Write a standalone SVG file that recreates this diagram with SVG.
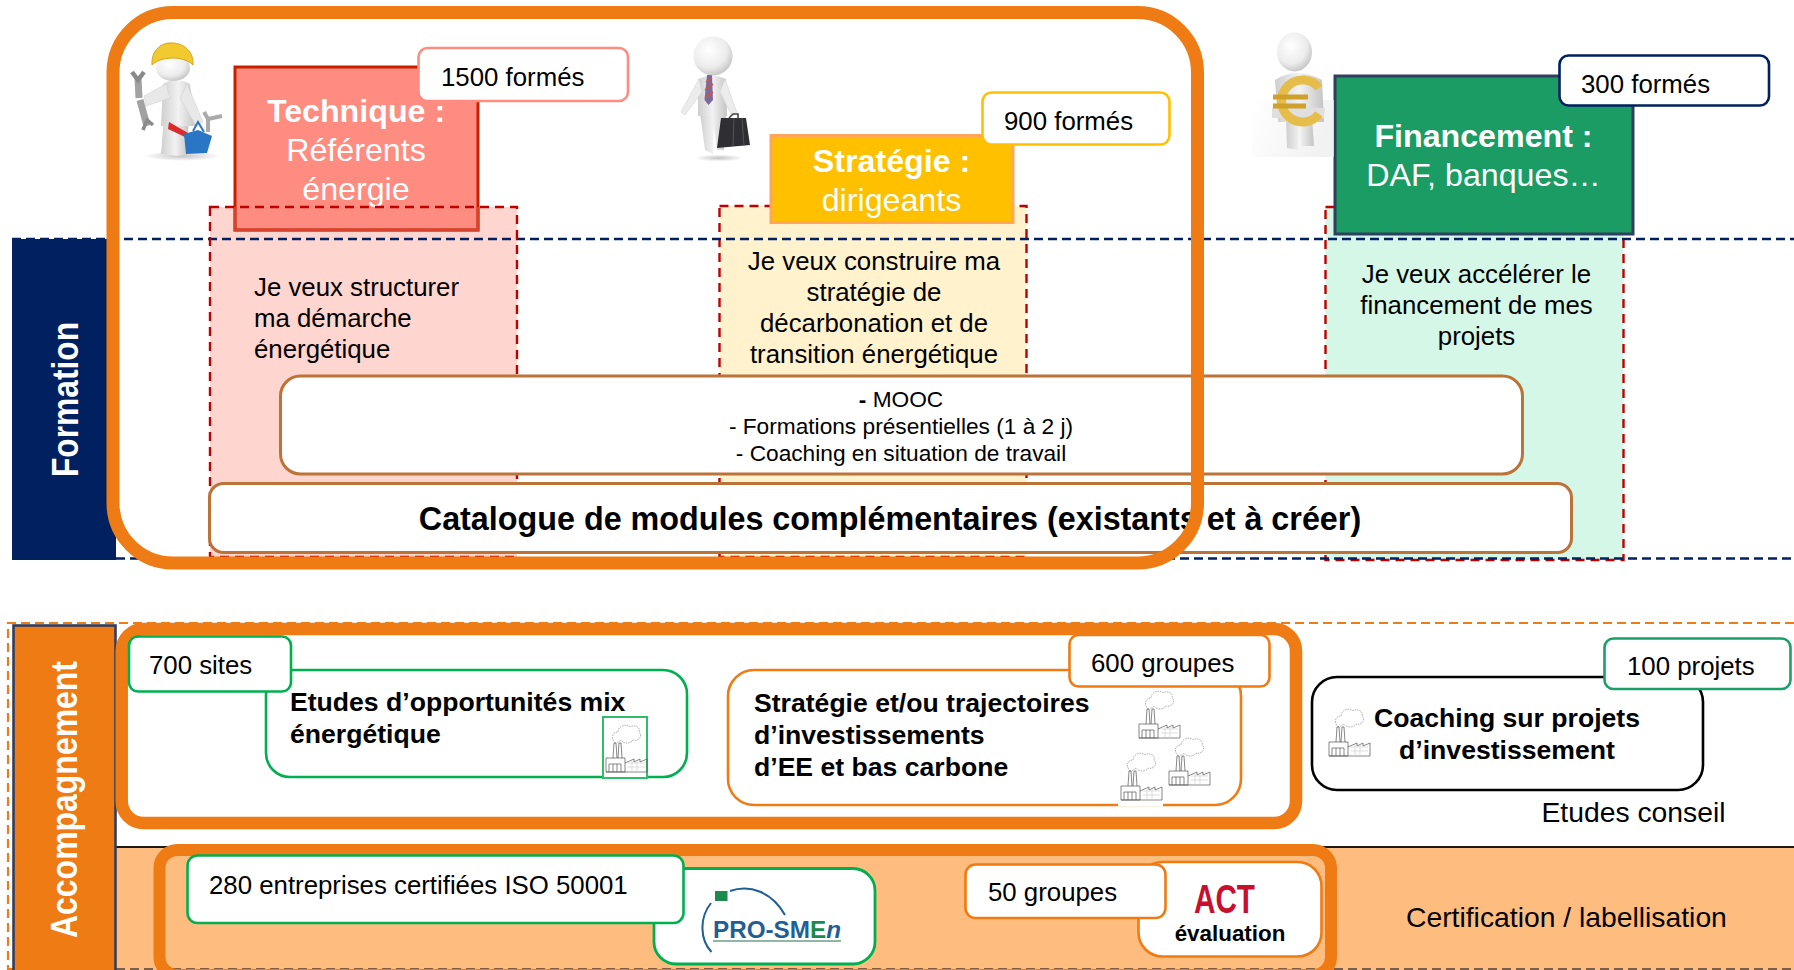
<svg xmlns="http://www.w3.org/2000/svg" xmlns:xlink="http://www.w3.org/1999/xlink" width="1794" height="970" viewBox="0 0 1794 970">
<style>
text{font-family:"Liberation Sans",Arial,sans-serif;fill:#000}
.b{font-weight:700}.w{fill:#fff}.m{text-anchor:middle}
.t25{font-size:25.8px}.t32{font-size:32.200px}.t22{font-size:22.700px}.t28{font-size:28.300px}.t26{font-size:26.600px}
.col{stroke:#c00000;stroke-width:2.400;stroke-dasharray:9 6}
.nav{stroke:#002060;stroke-width:2.400;stroke-dasharray:9 5;fill:none}
.thick{fill:none;stroke:#ee7b14}
.badge{fill:#fff;stroke-width:2.600}
.g{stroke:#00b050}.o{stroke:#ee7b14}.br{stroke:#bb7338;fill:#fff;stroke-width:3}
</style>
<defs>
<radialGradient id="skin" cx="0.4" cy="0.35" r="0.75"><stop offset="0" stop-color="#ffffff"/><stop offset="0.6" stop-color="#ececec"/><stop offset="1" stop-color="#b8b8b8"/></radialGradient>
<linearGradient id="limb" x1="0" x2="1" y1="0" y2="0"><stop offset="0" stop-color="#cfcfcf"/><stop offset="0.5" stop-color="#f2f2f2"/><stop offset="1" stop-color="#c4c4c4"/></linearGradient>
<linearGradient id="haze" x1="0" x2="1" y1="0" y2="0.3"><stop offset="0" stop-color="#fff"/><stop offset="1" stop-color="#ececec"/></linearGradient>
<radialGradient id="shadow"><stop offset="0" stop-color="#aaa" stop-opacity=".7"/><stop offset="1" stop-color="#aaa" stop-opacity="0"/></radialGradient>
<g id="factory" fill="none" stroke="#555" stroke-width=".7">
<path d="M2 49V35H21V49ZM2 49H43V36L36 39V36L30 39V36L21 40M5 49V41H17V49M9 41V49M13 41V49"/>
<path d="M9 35L10 20H12L13 35M14 35L15 20H17L18 35"/>
<path d="M11 20C6 14 9 9 14 9C14 3 22 0 26 4C30 1 37 4 35 9C39 12 35 19 29 17C27 21 19 21 17 17C15 19 12 20 11 20Z" stroke="#888" stroke-dasharray="1.500 1"/>
<path d="M24 40H41M24 44H41M28 38V49M33 38V49" stroke="#d0d0d0"/>
</g>
</defs>
<rect width="1794" height="970" fill="#fff"/>

<g id="band-certification"><rect x="116" y="847" width="1678" height="123" fill="#febd7e"/>
<line x1="116" y1="847" x2="1794" y2="847" stroke="#1a1a1a" stroke-width="2.200"/></g>

<g id="column-technique-fill"><rect x="210" y="207" width="307" height="350" fill="#ffd5cf"/></g>
<g id="column-strategie"><rect x="719.500" y="206" width="307" height="351" fill="#fff2cc" class="col"/></g>
<g id="column-financement"><rect x="1325.500" y="207" width="298" height="353" fill="#d5f7e7" class="col"/></g>

<g id="connectors">
<line x1="12" y1="239" x2="1794" y2="239" class="nav"/>
<line x1="116" y1="558.500" x2="1794" y2="558.500" class="nav"/>
<path d="M1794 623H8V969H1794" fill="none" stroke="#ee7b14" stroke-width="2.200" stroke-dasharray="9 5"/>
<line x1="116" y1="969" x2="1794" y2="969" stroke="#555" stroke-width="1.600" stroke-dasharray="9 5"/>
</g>

<g id="label-formation"><rect x="12" y="239" width="104" height="321" fill="#002060"/>
<text transform="translate(77.500 477) rotate(-90)" class="b w" font-size="37" textLength="155" lengthAdjust="spacingAndGlyphs">Formation</text></g>

<g id="node-technique">
<rect x="235" y="67" width="243" height="163" fill="#ff8c80" stroke="#c91f00" stroke-width="3"/>
<path d="M235 207V230H478V207" fill="none" stroke="#d4442f" stroke-width="3"/>
<text x="356" y="122" class="b w t32 m">Technique :</text>
<text x="356" y="161" class="w t32 m">Référents</text>
<text x="356" y="199.500" class="w t32 m">énergie</text>
<rect x="210" y="207" width="307" height="350" fill="none" class="col"/>
<text class="t25"><tspan x="254" y="296">Je veux structurer</tspan><tspan x="254" y="327">ma démarche</tspan><tspan x="254" y="358">énergétique</tspan></text>
</g>
<g id="badge-1500"><rect x="418.500" y="48" width="209.500" height="53" rx="9" class="badge" stroke="#ff8c80"/><text x="441" y="86" class="t25">1500 formés</text></g>

<g id="node-strategie">
<rect x="771" y="135.500" width="242" height="87" fill="#ffc000" stroke="#ffa65c" stroke-width="3"/>
<text x="891.500" y="172" class="b w t32 m">Stratégie :</text>
<text x="891.500" y="210.500" class="w t32 m">dirigeants</text>
<text class="t25 m"><tspan x="874" y="269.500">Je veux construire ma</tspan><tspan x="874" y="300.500">stratégie de</tspan><tspan x="874" y="331.500">décarbonation et de</tspan><tspan x="874" y="362.500">transition énergétique</tspan></text>
</g>
<g id="badge-900"><rect x="982.500" y="92.500" width="187" height="52" rx="9" class="badge" stroke="#ffc000"/><text x="1004" y="129.500" class="t25">900 formés</text></g>

<g id="node-financement">
<rect x="1335" y="76" width="298" height="158" fill="#1a9c64" stroke="#323e5e" stroke-width="3"/>
<text x="1483.500" y="147" class="b w t32 m">Financement :</text>
<text x="1483.500" y="185.500" class="w t32 m">DAF, banques…</text>
<text class="t25 m"><tspan x="1476.500" y="282.500">Je veux accélérer le</tspan><tspan x="1476.500" y="313.500">financement de mes</tspan><tspan x="1476.500" y="344.500">projets</tspan></text>
</g>
<g id="badge-300"><rect x="1559.500" y="55.500" width="209.500" height="50" rx="9" class="badge" stroke="#002060"/><text x="1581" y="93" class="t25">300 formés</text></g>

<g id="person-worker">
<ellipse cx="182" cy="156" rx="38" ry="5" fill="url(#shadow)"/>
<path d="M161 154L164 116H176L178 156ZM176 156L178 116H189L187 155Z" fill="url(#limb)"/>
<path d="M163 84Q176 76 190 84L196 126H161Z" fill="url(#limb)"/>
<path d="M166 84L144 96L146 106L170 98ZM187 84L203 122L196 126L180 98Z" fill="#e8e8e8" stroke="#d2d2d2" stroke-width=".6"/>
<path d="M138 78L139 98M140 100L147 126" stroke="#a2a2a2" stroke-width="7" fill="none"/>
<path d="M132 72L138 80L144 72" fill="none" stroke="#8a8a8a" stroke-width="4.500"/>
<path d="M143 130L147 120L153 125" fill="none" stroke="#8a8a8a" stroke-width="3.500"/>
<ellipse cx="173" cy="68" rx="17" ry="13" fill="url(#skin)"/>
<path d="M152 65C151 50 162 42 172 43C184 43 194 52 193 65C188 60 180 58 173 58C165 58 157 60 152 65Z" fill="#f2c92e" stroke="#d4a417" stroke-width="1"/>
<path d="M169 122L188 133L185 137L168 129Z" fill="#d92b2b"/>
<path d="M184 134L198 130L212 136L207 153L186 154Z" fill="#2a76c4"/>
<path d="M193 131L198 122L204 132" fill="none" stroke="#2a76c4" stroke-width="2"/>
<path d="M208 132V119M208 119L204 112M208 119L222 116" fill="none" stroke="#aaa" stroke-width="4"/>
</g>

<g id="person-manager">
<ellipse cx="719" cy="158" rx="24" ry="3.500" fill="url(#shadow)"/>
<path d="M700 113L705 150L713 154L714 116ZM712 113L717 150H724L726 113Z" fill="url(#limb)"/>
<path d="M698 79Q712 72 726 79L727 116H698Z" fill="url(#limb)"/>
<path d="M699 79L681 112L685 115L702 92ZM725 79L737 113L732 116L720 92Z" fill="#ececec" stroke="#d4d4d4" stroke-width=".6"/>
<path d="M707 75H712L713 100L708.500 105L704.500 100Z" fill="#7a6a9c"/>
<path d="M706 82L712 78M705 90L713 84M705 98L713 92" stroke="#c75555" stroke-width="1.600"/>
<circle cx="713" cy="56" r="19.500" fill="url(#skin)"/>
<path d="M721 118H746L750 145L717 148Z" fill="#2f2f33"/>
<path d="M729 118L733 114H738L738 118" fill="none" stroke="#444" stroke-width="1.600"/>
<path d="M734 118L733 146M742 118L744 146" stroke="#555" stroke-width="1" fill="none"/>
</g>

<g id="person-euro">
<rect x="1252" y="100" width="82" height="57" fill="url(#haze)" opacity=".7"/>
<path d="M1286 118L1287 148L1298 150L1299 120ZM1299 118L1301 146H1314L1312 118Z" fill="url(#limb)"/>
<path d="M1275 80Q1296 66 1322 80L1324 122H1278Z" fill="url(#limb)"/>
<path d="M1272 108L1325 108L1324 118L1272 118Z" fill="#dfdfdf"/>
<ellipse cx="1294.500" cy="52" rx="17.500" ry="19.500" fill="url(#skin)"/>
<path d="M1319 88A21 21 0 1 0 1319 114" fill="none" stroke="#e6bd4a" stroke-width="9"/>
<path d="M1273 97H1308M1273 106H1306" stroke="#cfa02a" stroke-width="5"/>
</g>

<g id="node-mooc">
<rect x="280.500" y="376" width="1242" height="98" rx="20" class="br"/>
<text class="t22 m"><tspan x="901" y="406.500"><tspan class="b">- </tspan>MOOC</tspan><tspan x="901" y="434">- Formations présentielles (1 à 2 j)</tspan><tspan x="901" y="460.500">- Coaching en situation de travail</tspan></text>
</g>
<g id="node-catalogue">
<rect x="209.500" y="483.500" width="1362" height="69" rx="14" class="br"/>
<text x="890" y="530" class="b m" font-size="32.300">Catalogue de modules complémentaires (existants et à créer)</text>
</g>
<g id="frame-formation"><rect x="113" y="12.500" width="1084.500" height="550.500" rx="60" class="thick" stroke-width="13"/></g>

<g id="label-accompagnement"><rect x="13.500" y="625.500" width="102" height="346" fill="#ee7b14" stroke="#323e5e" stroke-width="2.600"/>
<text transform="translate(77 938) rotate(-90)" class="b w" font-size="37" textLength="277" lengthAdjust="spacingAndGlyphs">Accompagnement</text></g>

<g id="frame-etudes"><rect x="121.700" y="629" width="1174.300" height="194" rx="22" class="thick" stroke-width="12.500"/></g>

<g id="node-etudes-mix">
<rect x="266" y="670" width="421" height="107" rx="24" fill="#fff" class="g" stroke-width="2.600"/>
<text class="b t26"><tspan x="290" y="710.500">Etudes d’opportunités mix</tspan><tspan x="290" y="742.500">énergétique</tspan></text>
<rect x="603" y="717" width="44" height="61" fill="#fff" stroke="#2dbe6c" stroke-width="2"/>
<use xlink:href="#factory" href="#factory" transform="translate(604 723)"/>
</g>
<g id="badge-700"><rect x="129" y="636.500" width="162" height="55" rx="9" class="badge g"/><text x="149" y="674" class="t25">700 sites</text></g>

<g id="node-strategie-trajectoires">
<rect x="728" y="670" width="513" height="135" rx="26" fill="#fff" class="o" stroke-width="2.600"/>
<text class="b t26"><tspan x="754" y="711.500">Stratégie et/ou trajectoires</tspan><tspan x="754" y="743.500">d’investissements</tspan><tspan x="754" y="775.500">d’EE et bas carbone</tspan></text>
<rect x="1118" y="752" width="45" height="54.500" fill="#fff"/>
<use xlink:href="#factory" href="#factory" transform="translate(1137 689)"/>
<use xlink:href="#factory" href="#factory" transform="translate(1167 736)"/>
<use xlink:href="#factory" href="#factory" transform="translate(1119 751)"/>
</g>
<g id="badge-600"><rect x="1069.500" y="635" width="200" height="51.500" rx="9" class="badge o"/><text x="1091" y="671.500" class="t25">600 groupes</text></g>

<g id="node-coaching">
<rect x="1312" y="677" width="391" height="113" rx="25" fill="#fff" stroke="#000" stroke-width="2.600"/>
<text class="b t26 m"><tspan x="1507" y="726.500">Coaching sur projets</tspan><tspan x="1507" y="758.500">d’investissement</tspan></text>
<use xlink:href="#factory" href="#factory" transform="translate(1327 707)"/>
</g>
<g id="badge-100"><rect x="1604.500" y="638.500" width="186" height="50.500" rx="9" class="badge" stroke="#1aa06a"/><text x="1627" y="674.500" class="t25">100 projets</text></g>
<g id="label-etudes"><text x="1541.500" y="821.500" class="t28">Etudes conseil</text></g>
<g id="label-certification"><text x="1406" y="926.500" class="t28">Certification / labellisation</text></g>

<g id="frame-certification"><rect x="159.500" y="850" width="1171.500" height="125" rx="18" class="thick" stroke-width="12"/></g>

<g id="node-prosmen">
<rect x="654" y="868.500" width="221" height="95.500" rx="22" fill="#fff" class="g" stroke-width="2.800"/>
<rect x="715" y="891" width="12.500" height="10" fill="#1b8a4e"/>
<path d="M730 891C750 884 772 892 785 915M711 903C699 918 700 940 711.500 952" fill="none" stroke="#1f5f94" stroke-width="2"/>
<text x="713" y="938" font-size="24" class="b" textLength="128" lengthAdjust="spacingAndGlyphs" style="fill:#1f5f94">PRO-SM<tspan style="fill:#1b8a4e">E</tspan><tspan font-style="italic">n</tspan></text>
<line x1="713" y1="941" x2="841" y2="941" stroke="#6f9d8a" stroke-width="1.500"/>
</g>
<g id="badge-280"><rect x="187.500" y="855.500" width="496" height="67.500" rx="10" class="badge g"/><text x="209" y="894" class="t25">280 entreprises certifiées ISO 50001</text></g>

<g id="node-act">
<rect x="1138.500" y="862" width="183" height="94.500" rx="24" fill="#fff" class="o" stroke-width="2.600"/>
<text x="1194" y="913" font-size="40" class="b" textLength="61" lengthAdjust="spacingAndGlyphs" style="fill:#c8102e">ACT</text>
<text x="1230" y="940.500" font-size="22.400" class="b m">évaluation</text>
</g>
<g id="badge-50"><rect x="965.500" y="864.500" width="200" height="53.500" rx="10" class="badge o"/><text x="988" y="901" class="t25">50 groupes</text></g>
</svg>
